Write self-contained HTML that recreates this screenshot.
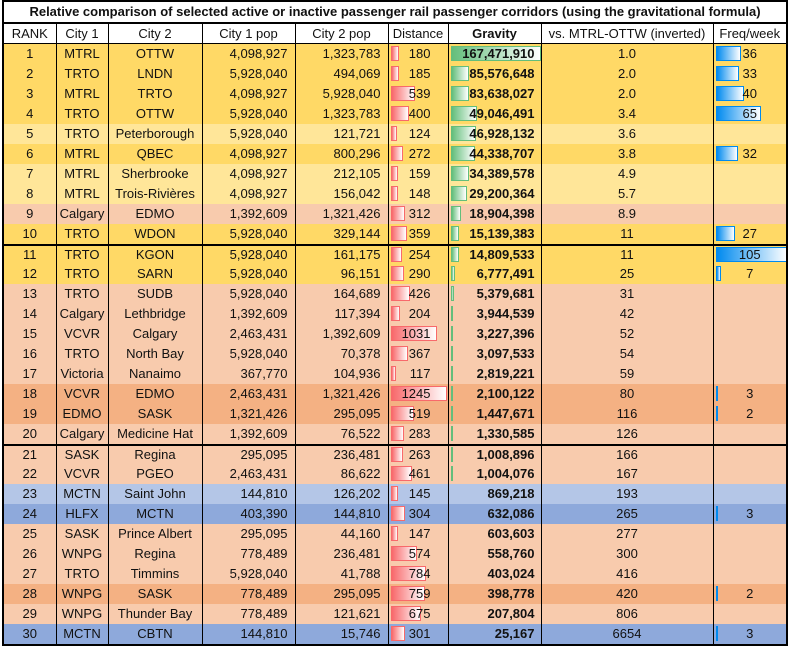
<!DOCTYPE html>
<html><head><meta charset="utf-8"><style>
body{margin:0;background:#fff;width:788px;height:647px;overflow:hidden;font-family:"Liberation Sans",sans-serif;font-size:13px;color:#111}
table{position:absolute;left:2px;top:0px;border-collapse:collapse;table-layout:fixed;width:785px;border:2px solid #000}
td{padding:0;height:20px;line-height:20px;text-align:center;border-left:1px solid #000;border-right:1px solid #000;white-space:nowrap;overflow:hidden;position:relative}
tr.t td{height:20px;line-height:20px;font-weight:bold;font-size:13px;border-bottom:2px solid #000}
tr.h td{height:19px;line-height:19px;border-bottom:1px solid #000;background:#fff}
.r{text-align:right;padding-right:7px}
.d{text-align:right;padding-right:17px}
.gv{text-align:right;padding-right:6px;font-weight:bold}
td i{position:absolute;left:2px;top:2px;height:15px;box-sizing:border-box}
.d i{background:linear-gradient(90deg,#F8696B,#fff);border:1px solid #F8696B}
.gv i{background:linear-gradient(90deg,#63BE7B,#fff);border:1px solid #63BE7B}
.f i{background:linear-gradient(90deg,#008AEF,#fff);border:1px solid #008AEF}
td span{position:relative}
.G td{background:#FFD966}.L td{background:#FFE699}.S td{background:#F8CBAD}.D td{background:#F4B183}.B td{background:#B4C6E7}.N td{background:#8EA9DB}
tr.k td{border-top:2px solid #000;height:18px;line-height:18px}
tr.k td i{top:1px}
</style></head><body>
<table>
<colgroup><col style="width:53px"><col style="width:52px"><col style="width:94px"><col style="width:93px"><col style="width:93px"><col style="width:60px"><col style="width:93px"><col style="width:172px"><col style="width:74px"></colgroup>
<tr class="t"><td colspan="9">Relative comparison of selected active or inactive passenger rail passenger corridors (using the gravitational formula)</td></tr>
<tr class="h"><td>RANK</td><td>City 1</td><td>City 2</td><td>City 1 pop</td><td>City 2 pop</td><td>Distance</td><td style="font-weight:bold">Gravity</td><td>vs. MTRL-OTTW (inverted)</td><td>Freq/week</td></tr>
<tr class="G"><td>1</td><td>MTRL</td><td>OTTW</td><td class="r">4,098,927</td><td class="r">1,323,783</td><td class="d"><i style="width:8px"></i><span>180</span></td><td class="gv"><i style="width:90px"></i><span>167,471,910</span></td><td>1.0</td><td class="f"><i style="width:25px"></i><span>36</span></td></tr>
<tr class="G"><td>2</td><td>TRTO</td><td>LNDN</td><td class="r">5,928,040</td><td class="r">494,069</td><td class="d"><i style="width:8px"></i><span>185</span></td><td class="gv"><i style="width:18px"></i><span>85,576,648</span></td><td>2.0</td><td class="f"><i style="width:23px"></i><span>33</span></td></tr>
<tr class="G"><td>3</td><td>MTRL</td><td>TRTO</td><td class="r">4,098,927</td><td class="r">5,928,040</td><td class="d"><i style="width:24px"></i><span>539</span></td><td class="gv"><i style="width:18px"></i><span>83,638,027</span></td><td>2.0</td><td class="f"><i style="width:28px"></i><span>40</span></td></tr>
<tr class="G"><td>4</td><td>TRTO</td><td>OTTW</td><td class="r">5,928,040</td><td class="r">1,323,783</td><td class="d"><i style="width:18px"></i><span>400</span></td><td class="gv"><i style="width:26px"></i><span>49,046,491</span></td><td>3.4</td><td class="f"><i style="width:45px"></i><span>65</span></td></tr>
<tr class="L"><td>5</td><td>TRTO</td><td>Peterborough</td><td class="r">5,928,040</td><td class="r">121,721</td><td class="d"><i style="width:6px"></i><span>124</span></td><td class="gv"><i style="width:25px"></i><span>46,928,132</span></td><td>3.6</td><td class="f"></td></tr>
<tr class="G"><td>6</td><td>MTRL</td><td>QBEC</td><td class="r">4,098,927</td><td class="r">800,296</td><td class="d"><i style="width:12px"></i><span>272</span></td><td class="gv"><i style="width:24px"></i><span>44,338,707</span></td><td>3.8</td><td class="f"><i style="width:22px"></i><span>32</span></td></tr>
<tr class="L"><td>7</td><td>MTRL</td><td>Sherbrooke</td><td class="r">4,098,927</td><td class="r">212,105</td><td class="d"><i style="width:7px"></i><span>159</span></td><td class="gv"><i style="width:18px"></i><span>34,389,578</span></td><td>4.9</td><td class="f"></td></tr>
<tr class="L"><td>8</td><td>MTRL</td><td>Trois-Rivières</td><td class="r">4,098,927</td><td class="r">156,042</td><td class="d"><i style="width:7px"></i><span>148</span></td><td class="gv"><i style="width:16px"></i><span>29,200,364</span></td><td>5.7</td><td class="f"></td></tr>
<tr class="S"><td>9</td><td>Calgary</td><td>EDMO</td><td class="r">1,392,609</td><td class="r">1,321,426</td><td class="d"><i style="width:14px"></i><span>312</span></td><td class="gv"><i style="width:10px"></i><span>18,904,398</span></td><td>8.9</td><td class="f"></td></tr>
<tr class="G"><td>10</td><td>TRTO</td><td>WDON</td><td class="r">5,928,040</td><td class="r">329,144</td><td class="d"><i style="width:16px"></i><span>359</span></td><td class="gv"><i style="width:8px"></i><span>15,139,383</span></td><td>11</td><td class="f"><i style="width:19px"></i><span>27</span></td></tr>
<tr class="G k"><td>11</td><td>TRTO</td><td>KGON</td><td class="r">5,928,040</td><td class="r">161,175</td><td class="d"><i style="width:11px"></i><span>254</span></td><td class="gv"><i style="width:8px"></i><span>14,809,533</span></td><td>11</td><td class="f"><i style="width:72px"></i><span>105</span></td></tr>
<tr class="G"><td>12</td><td>TRTO</td><td>SARN</td><td class="r">5,928,040</td><td class="r">96,151</td><td class="d"><i style="width:13px"></i><span>290</span></td><td class="gv"><i style="width:4px"></i><span>6,777,491</span></td><td>25</td><td class="f"><i style="width:5px"></i><span>7</span></td></tr>
<tr class="S"><td>13</td><td>TRTO</td><td>SUDB</td><td class="r">5,928,040</td><td class="r">164,689</td><td class="d"><i style="width:19px"></i><span>426</span></td><td class="gv"><i style="width:3px"></i><span>5,379,681</span></td><td>31</td><td class="f"></td></tr>
<tr class="S"><td>14</td><td>Calgary</td><td>Lethbridge</td><td class="r">1,392,609</td><td class="r">117,394</td><td class="d"><i style="width:9px"></i><span>204</span></td><td class="gv"><i style="width:2px"></i><span>3,944,539</span></td><td>42</td><td class="f"></td></tr>
<tr class="S"><td>15</td><td>VCVR</td><td>Calgary</td><td class="r">2,463,431</td><td class="r">1,392,609</td><td class="d"><i style="width:46px"></i><span>1031</span></td><td class="gv"><i style="width:2px"></i><span>3,227,396</span></td><td>52</td><td class="f"></td></tr>
<tr class="S"><td>16</td><td>TRTO</td><td>North Bay</td><td class="r">5,928,040</td><td class="r">70,378</td><td class="d"><i style="width:17px"></i><span>367</span></td><td class="gv"><i style="width:2px"></i><span>3,097,533</span></td><td>54</td><td class="f"></td></tr>
<tr class="S"><td>17</td><td>Victoria</td><td>Nanaimo</td><td class="r">367,770</td><td class="r">104,936</td><td class="d"><i style="width:5px"></i><span>117</span></td><td class="gv"><i style="width:2px"></i><span>2,819,221</span></td><td>59</td><td class="f"></td></tr>
<tr class="D"><td>18</td><td>VCVR</td><td>EDMO</td><td class="r">2,463,431</td><td class="r">1,321,426</td><td class="d"><i style="width:56px"></i><span>1245</span></td><td class="gv"><i style="width:1px"></i><span>2,100,122</span></td><td>80</td><td class="f"><i style="width:2px"></i><span>3</span></td></tr>
<tr class="D"><td>19</td><td>EDMO</td><td>SASK</td><td class="r">1,321,426</td><td class="r">295,095</td><td class="d"><i style="width:23px"></i><span>519</span></td><td class="gv"><i style="width:1px"></i><span>1,447,671</span></td><td>116</td><td class="f"><i style="width:1px"></i><span>2</span></td></tr>
<tr class="S"><td>20</td><td>Calgary</td><td>Medicine Hat</td><td class="r">1,392,609</td><td class="r">76,522</td><td class="d"><i style="width:13px"></i><span>283</span></td><td class="gv"><i style="width:1px"></i><span>1,330,585</span></td><td>126</td><td class="f"></td></tr>
<tr class="S k"><td>21</td><td>SASK</td><td>Regina</td><td class="r">295,095</td><td class="r">236,481</td><td class="d"><i style="width:12px"></i><span>263</span></td><td class="gv"><i style="width:1px"></i><span>1,008,896</span></td><td>166</td><td class="f"></td></tr>
<tr class="S"><td>22</td><td>VCVR</td><td>PGEO</td><td class="r">2,463,431</td><td class="r">86,622</td><td class="d"><i style="width:21px"></i><span>461</span></td><td class="gv"><i style="width:1px"></i><span>1,004,076</span></td><td>167</td><td class="f"></td></tr>
<tr class="B"><td>23</td><td>MCTN</td><td>Saint John</td><td class="r">144,810</td><td class="r">126,202</td><td class="d"><i style="width:7px"></i><span>145</span></td><td class="gv"><span>869,218</span></td><td>193</td><td class="f"></td></tr>
<tr class="N"><td>24</td><td>HLFX</td><td>MCTN</td><td class="r">403,390</td><td class="r">144,810</td><td class="d"><i style="width:14px"></i><span>304</span></td><td class="gv"><span>632,086</span></td><td>265</td><td class="f"><i style="width:2px"></i><span>3</span></td></tr>
<tr class="S"><td>25</td><td>SASK</td><td>Prince Albert</td><td class="r">295,095</td><td class="r">44,160</td><td class="d"><i style="width:7px"></i><span>147</span></td><td class="gv"><span>603,603</span></td><td>277</td><td class="f"></td></tr>
<tr class="S"><td>26</td><td>WNPG</td><td>Regina</td><td class="r">778,489</td><td class="r">236,481</td><td class="d"><i style="width:26px"></i><span>574</span></td><td class="gv"><span>558,760</span></td><td>300</td><td class="f"></td></tr>
<tr class="S"><td>27</td><td>TRTO</td><td>Timmins</td><td class="r">5,928,040</td><td class="r">41,788</td><td class="d"><i style="width:35px"></i><span>784</span></td><td class="gv"><span>403,024</span></td><td>416</td><td class="f"></td></tr>
<tr class="D"><td>28</td><td>WNPG</td><td>SASK</td><td class="r">778,489</td><td class="r">295,095</td><td class="d"><i style="width:34px"></i><span>759</span></td><td class="gv"><span>398,778</span></td><td>420</td><td class="f"><i style="width:1px"></i><span>2</span></td></tr>
<tr class="S"><td>29</td><td>WNPG</td><td>Thunder Bay</td><td class="r">778,489</td><td class="r">121,621</td><td class="d"><i style="width:30px"></i><span>675</span></td><td class="gv"><span>207,804</span></td><td>806</td><td class="f"></td></tr>
<tr class="N"><td>30</td><td>MCTN</td><td>CBTN</td><td class="r">144,810</td><td class="r">15,746</td><td class="d"><i style="width:14px"></i><span>301</span></td><td class="gv"><span>25,167</span></td><td>6654</td><td class="f"><i style="width:2px"></i><span>3</span></td></tr>
</table>
</body></html>
